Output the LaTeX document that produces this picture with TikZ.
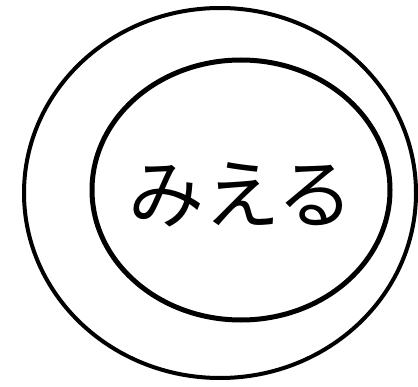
\documentclass[tikz,border=0pt]{standalone}
\usepackage{fontspec}
\newfontfamily\jpfont{Noto Sans CJK JP}
\begin{document}
\begin{tikzpicture}[x=1pt,y=1pt]
\useasboundingbox (0,0) rectangle (418,386);
\fill[white] (0,0) rectangle (418,386);
\draw[line width=4pt] (220,193) ellipse [x radius=196, y radius=185];
\draw[line width=5pt] (241,196) ellipse [x radius=149, y radius=130];
\node[font=\jpfont\fontsize{76}{76}\selectfont, inner sep=0pt] (t) at (241,191) {みえる};
\end{tikzpicture}
\end{document}
